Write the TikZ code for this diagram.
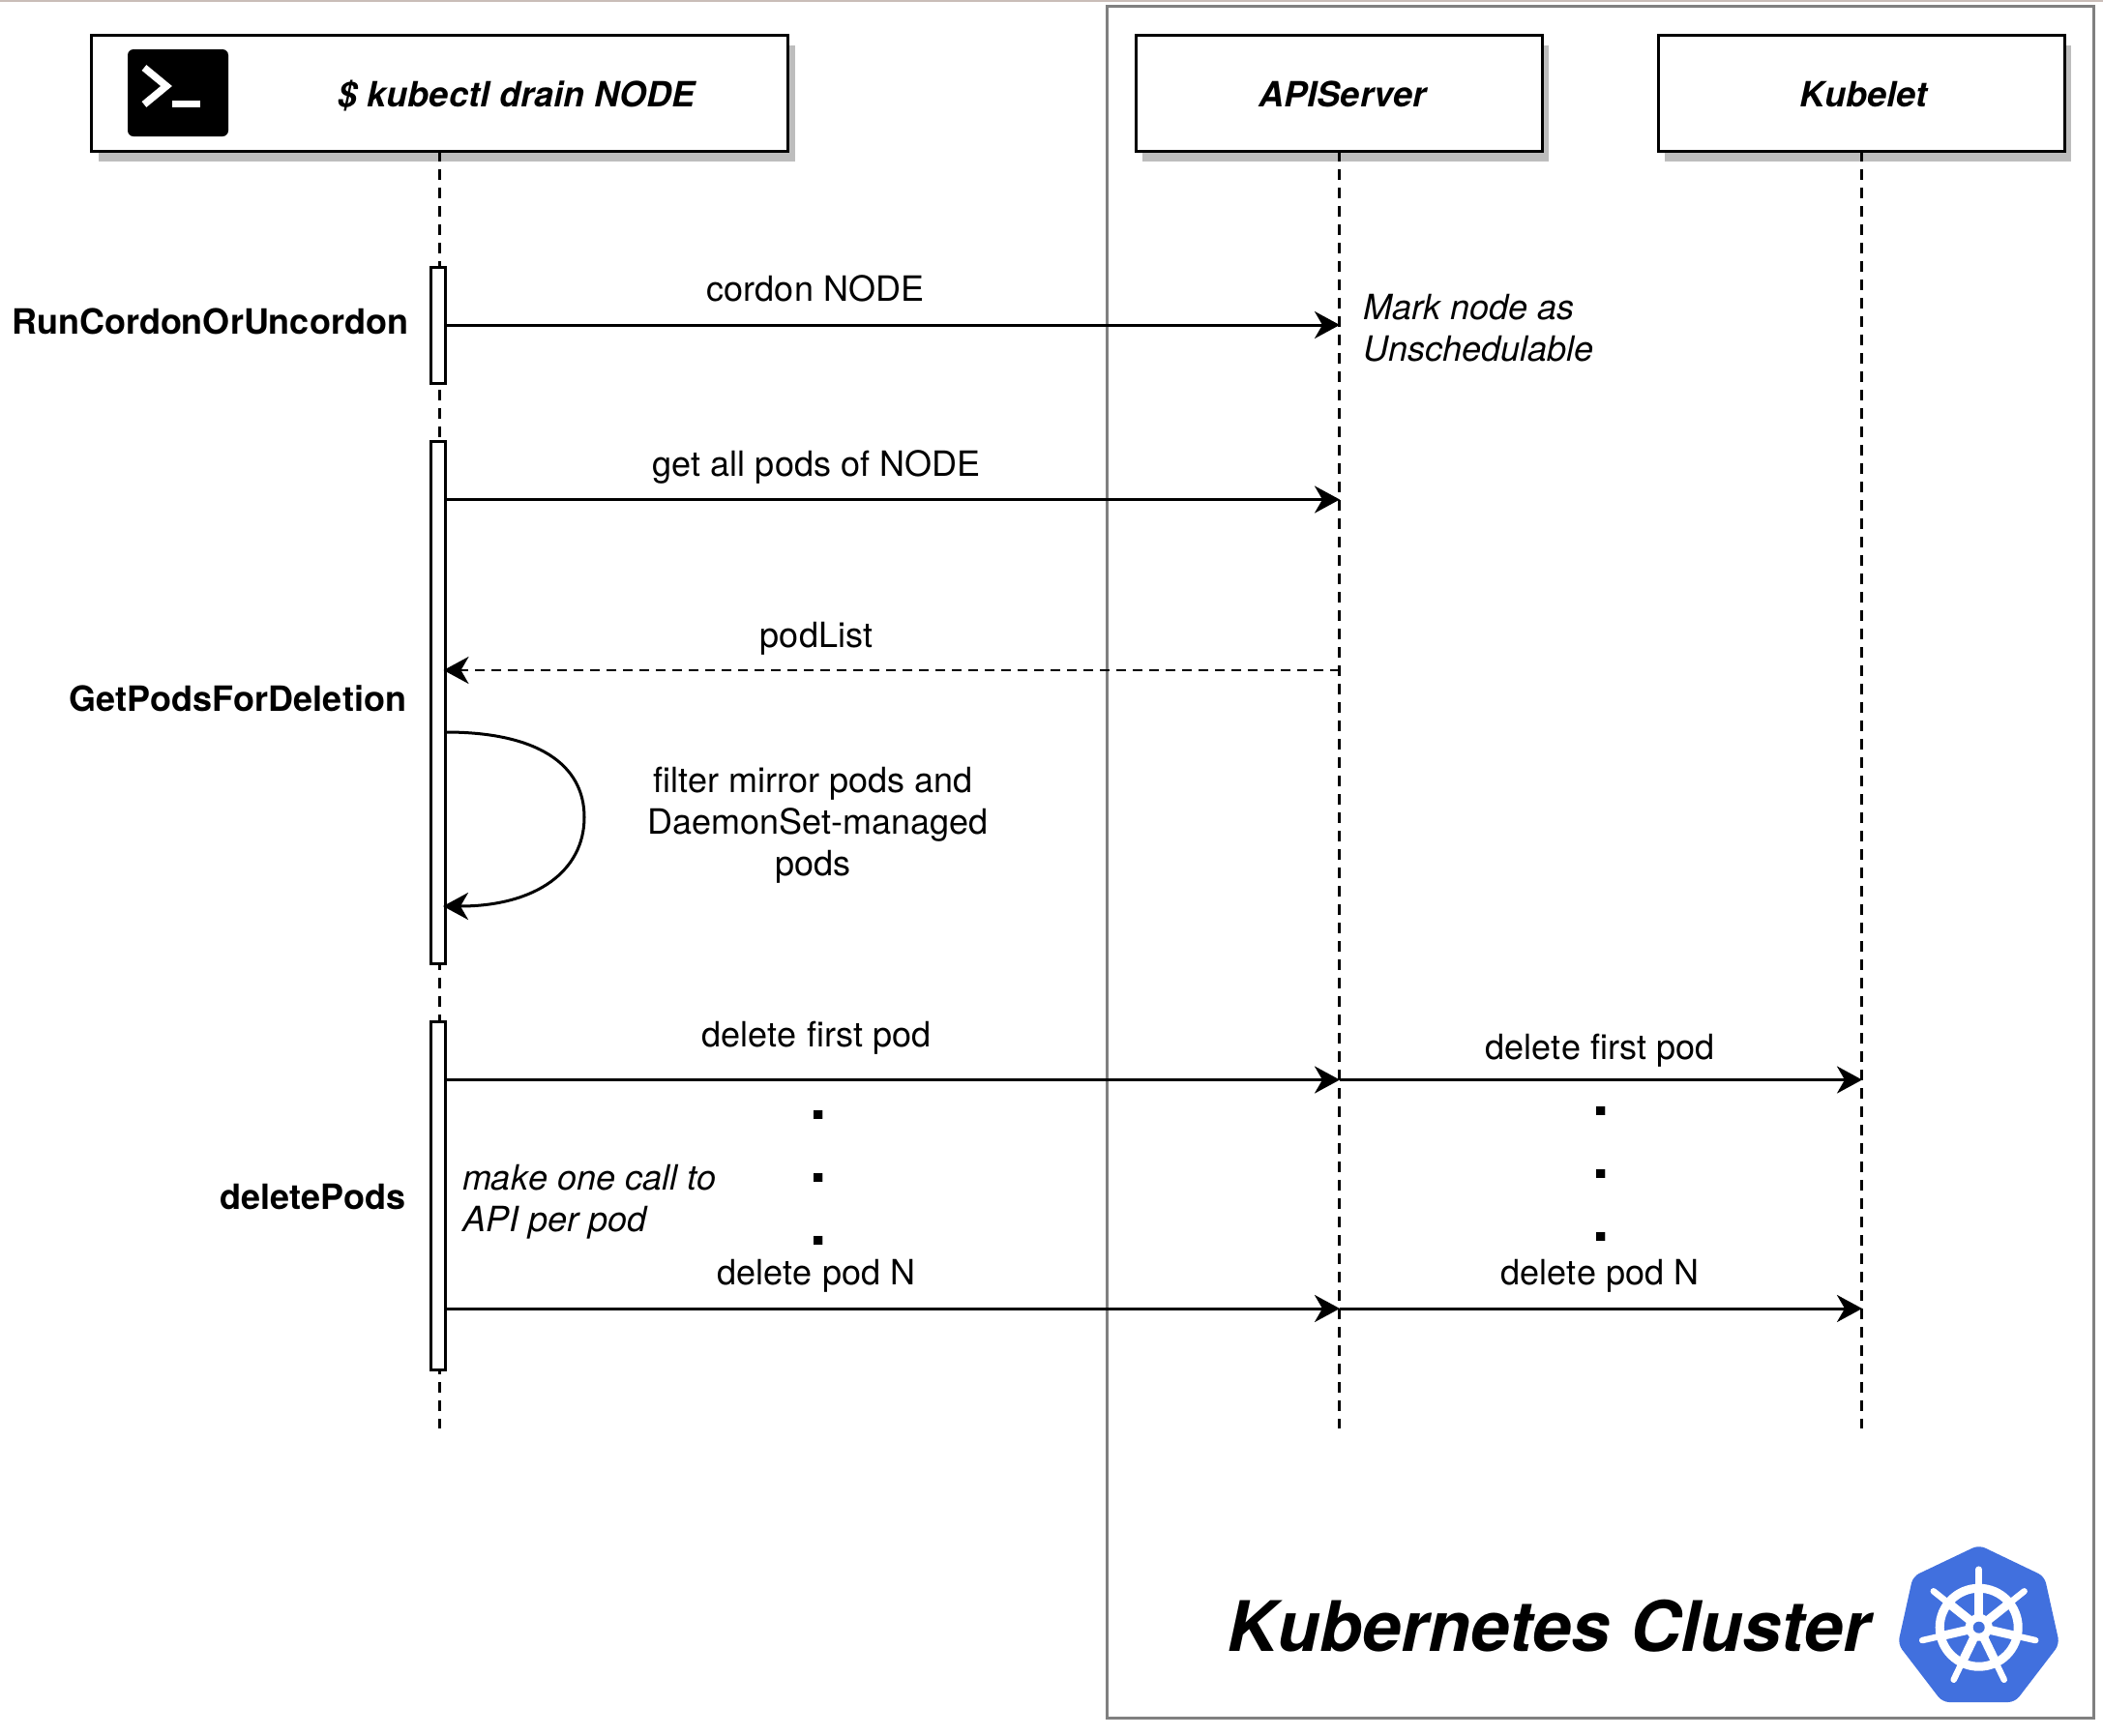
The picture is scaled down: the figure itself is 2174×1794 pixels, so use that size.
\documentclass[tikz,border=0pt]{standalone}
\usepackage{fontspec}
\setmainfont[Kerning=Off]{TeX Gyre Heros}
\usetikzlibrary{arrows.meta,shadows}
\definecolor{shadowgray}{HTML}{BDBDBD}
\definecolor{clustergray}{HTML}{808080}
\definecolor{topstrip}{HTML}{C9BDB8}
\definecolor{kubeblue}{HTML}{4170DE}
\tikzset{
  actorbox/.style={draw=black,fill=white,line width=3pt,inner sep=0pt,outer sep=0pt,minimum height=120pt,
    general shadow={fill=shadowgray,shadow xshift=7pt,shadow yshift=-10.5pt}},
  actbar/.style={draw=black,fill=white,line width=3pt,inner sep=0pt,outer sep=0pt,minimum width=15pt},
  lifeline/.style={line width=2.8pt,dash pattern=on 11pt off 8pt},
  msg/.style={line width=3pt,-{Stealth[length=26pt,width=28pt,inset=8pt]}},
  reply/.style={msg,line width=2.8pt,dash pattern=on 10pt off 7pt},
  txt/.style={inner sep=0pt,outer sep=0pt,font=\fontsize{36}{43}\selectfont,text height=26pt,text depth=8pt},
  boldtxt/.style={txt,font=\fontsize{36}{43}\selectfont\bfseries},
  itxt/.style={txt,font=\fontsize{36}{43}\selectfont\itshape,align=left,anchor=west},
  headtxt/.style={txt,font=\fontsize{36}{43}\selectfont\bfseries\itshape},
  dotstxt/.style={inner sep=0pt,outer sep=0pt,align=center,font=\fontsize{62}{65}\selectfont\bfseries}
}
\begin{document}
\begin{tikzpicture}[x=1pt,y=-1pt]
\useasboundingbox (0,0) rectangle (2174,1794);
\fill[white] (0,0) rectangle (2174,1794);
\fill[topstrip] (0,0) rectangle (2174,2);
% cluster frame
\node[draw=clustergray,line width=3pt,inner sep=0pt,outer sep=0pt,minimum width=1020pt,minimum height=1770pt] (cluster) at (1654.5,891) {};
% lifeline ends
\coordinate (endA) at (454.5,1477);
\coordinate (endB) at (1384.5,1477);
\coordinate (endC) at (1924.5,1477);
% actors
\node[actorbox,minimum width=720pt] (cli) at (454.5,96) {};
\node[actorbox,minimum width=420pt] (api) at (1384,96) {};
\node[actorbox,minimum width=420pt] (kub) at (1924,96) {};
\node[headtxt] (clitxt) at (534,101) {\$ kubectl drain NODE};
\node[headtxt] (apitxt) at (1388,101) {APIServer};
\node[headtxt] (kubtxt) at (1926,101) {Kubelet};
% terminal icon
\fill[black,rounded corners=6pt] (132,51) rectangle (236,141);
\draw[white,line width=7.5pt,miter limit=10] (149,70) -- (172,89) -- (149,108);
\fill[white] (178,104) rectangle (207,111);
% lifelines
\draw[lifeline] (cli.south -| endA) -- (endA);
\draw[lifeline] (api.south -| endB) -- (endB);
\draw[lifeline] (kub.south -| endC) -- (endC);
% activations
\node[actbar,minimum height=120pt] (bar1) at (453,336) {};
\node[actbar,minimum height=540pt] (bar2) at (453,726) {};
\node[actbar,minimum height=360pt] (bar3) at (453,1236) {};
% message anchors
\coordinate (m1) at (1385,336);
\coordinate (m2) at (1385,516.5);
\coordinate (m3) at (1385,693);
\coordinate (s1) at (461,757);
\coordinate (s2) at (458,937);
\coordinate (m4) at (1385,1116.5);
\coordinate (m5) at (1385,1353);
\coordinate (m6) at (1925,1116.5);
\coordinate (m7) at (1925,1353);
% messages
\draw[msg] (bar1.east |- m1) -- (m1);
\draw[msg] (bar2.east |- m2) -- (m2);
\draw[reply,shorten >=-2pt] (m3) -- (bar2.east |- m3);
\draw[msg] (s1) .. controls (555,757) and (604,790) .. (604,845) .. controls (604,900) and (555,937) .. (s2);
\draw[msg] (bar3.east |- m4) -- (m4);
\draw[msg] (bar3.east |- m5) -- (m5);
\draw[msg] (m4) -- (m6);
\draw[msg] (m5) -- (m7);
% labels
\node[txt] (l1) at (843,302) {cordon NODE};
\node[txt] (l2) at (844,483) {get all pods of NODE};
\node[txt] (l3) at (844,660) {podList};
\node[txt,align=center,text height=,text depth=] (l4) at (843,853) {filter mirror pods and\hspace*{5pt}\\\hspace*{5pt}DaemonSet-managed\\pods\hspace*{5pt}};
\node[txt] (l5) at (844,1073) {delete first pod};
\node[txt] (l6) at (844,1319) {delete pod N};
\node[txt] (l7) at (1654,1086) {delete first pod};
\node[txt] (l8) at (1654,1319) {delete pod N};
\node[itxt,text height=,text depth=] (n1) at (1409,339) {Mark node as\\Unschedulable};
\node[itxt,text height=,text depth=] (n2) at (478,1243) {make one call to\\API per pod};
\node[boldtxt,anchor=east] (f1) at (422,336) {RunCordonOrUncordon};
\node[boldtxt,anchor=east] (f2) at (420,726) {GetPodsForDeletion};
\node[boldtxt,anchor=east] (f3) at (420,1241) {deletePods};
\node[dotstxt] (d1) at (846,1218) {.\\.\\.};
\node[dotstxt] (d2) at (1655,1214) {.\\.\\.};
\node[inner sep=0pt,outer sep=0pt,font=\fontsize{72}{86}\selectfont\bfseries\itshape] (title) at (1601,1681) {Kubernetes Cluster};
% kubernetes logo
\fill[kubeblue,rounded corners=7pt] (2045.7,1597.5) -- (2113.5,1630) -- (2129,1700) -- (2083,1760) -- (2008,1760) -- (1962,1700) -- (1977.5,1630) -- cycle;
\begin{scope}[shift={(2045.7,1682.7)}]
  \draw[white,line width=9pt] (0,0) circle (40.5);
  \foreach \k in {0,...,6}{
    \draw[white,line width=9pt] (0,0) -- ({-90+\k*360/7}:42);
    \draw[white,line width=6.5pt,line cap=round] ({-90+\k*360/7}:42) -- ({-90+\k*360/7}:60);
  }
  \fill[white] (0,0) circle (14);
  \fill[kubeblue] (0,0) circle (6);
\end{scope}
\end{tikzpicture}
\end{document}
